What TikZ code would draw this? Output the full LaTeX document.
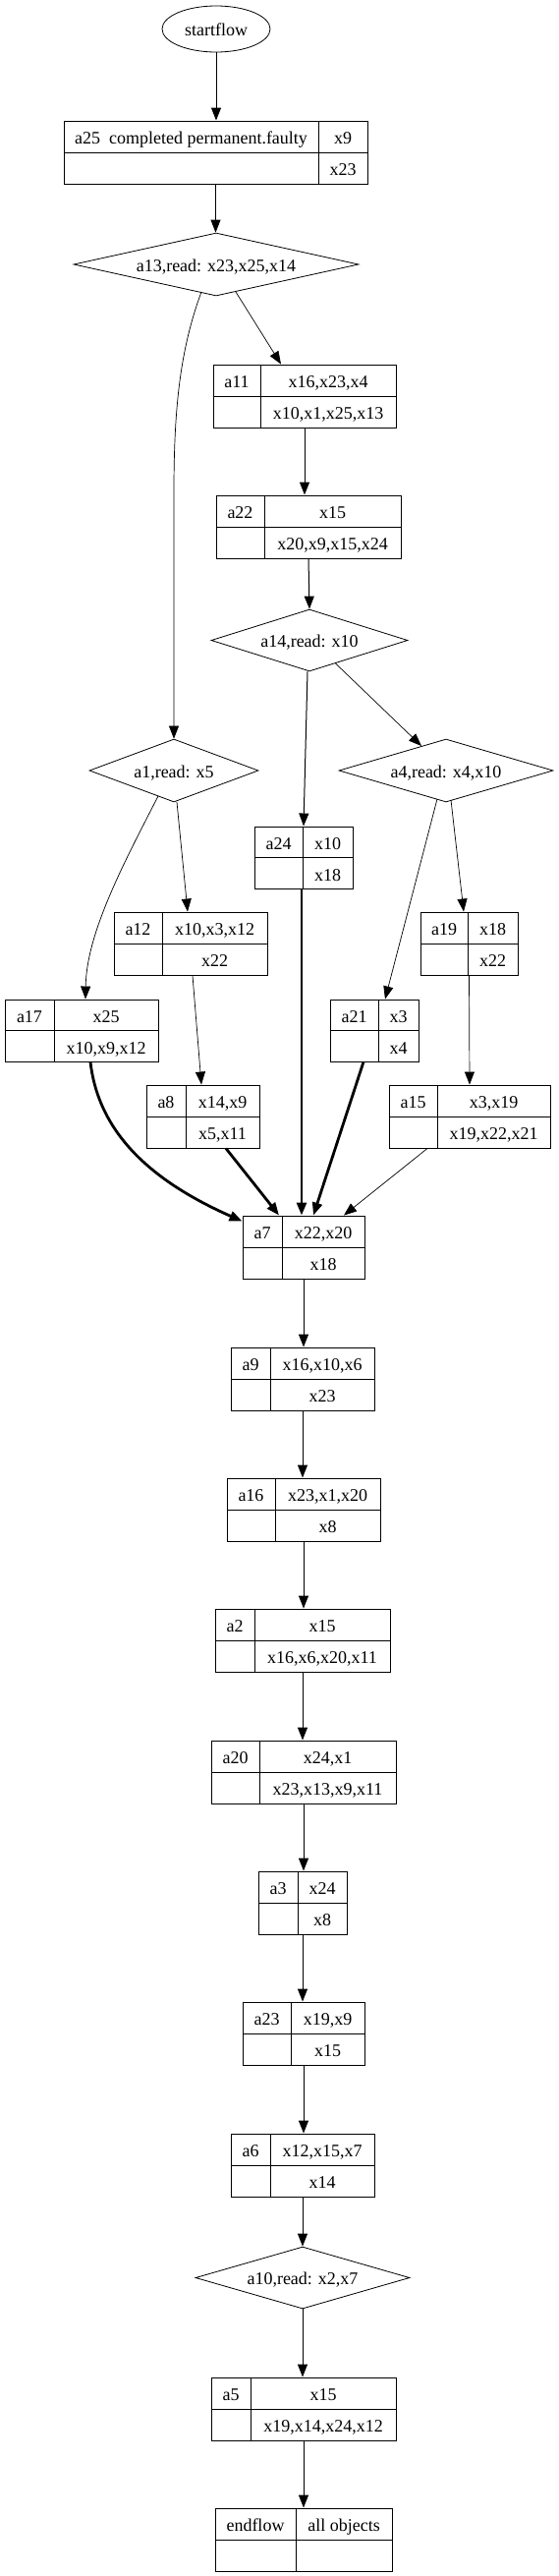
\documentclass[tikz,border=0pt]{standalone}
\usepackage{fontspec}
\setmainfont{Liberation Serif}
\usetikzlibrary{shapes.geometric,arrows.meta,calc}

\tikzset{
  every node/.style={font=\fontsize{18}{20}\selectfont},
  recbox/.style={draw, line width=0.95pt, rectangle, inner sep=0pt},
  recline/.style={line width=0.95pt},
  celltext/.style={anchor=base, inner sep=0pt},
  decision/.style={draw, diamond, aspect=4, inner sep=0pt, line width=0.8pt, text height=14pt, text depth=0pt},
  terminal/.style={draw, ellipse, inner sep=0pt, line width=0.8pt, text height=13pt, text depth=0pt},
  flow/.style={line width=1pt, -{Triangle[length=13pt,width=10pt]}},
  thinflow/.style={line width=0.7pt, -{Triangle[length=13pt,width=10pt]}},
  heavyflow/.style={line width=2.8pt, -{Triangle[length=13pt,width=10pt]}},
}

\newcommand{\rec}[9]{%
  \node[recbox, minimum width={(#4)-(#2)}, minimum height={(#6)-(#5)}] (#1) at ({((#2)+(#4))/2},{((#5)+(#6))/2}) {};
  \draw[recline] ({#3},{#5}) -- ({#3},{#6});
  \draw[recline] ({#2},{((#5)+(#6))/2}) -- ({#4},{((#5)+(#6))/2});
  \node[celltext] (#1-l) at ({((#2)+(#3))/2},{(#5)+23.5}) {#7};
  \node[celltext] (#1-t) at ({((#3)+(#4))/2},{(#5)+23.5}) {#8};
  \node[celltext] (#1-b) at ({((#3)+(#4))/2},{((#5)+(#6))/2+23.5}) {#9};
}

\begin{document}
\begin{tikzpicture}[x=1pt,y=-1pt]
\useasboundingbox (0,0) rectangle (569,2621);

% start
\node[terminal, minimum width=110, minimum height=47] (start) at (220,29.5) {startflow};

% records
\rec{a25}{65}{324}{374}{123}{187}{a25\ \ completed permanent.faulty}{x9}{x23}
\rec{a11}{217}{265}{403}{371}{435}{a11}{x16,x23,x4}{x10,x1,x25,x13}
\rec{a22}{220}{269}{408}{504}{568}{a22}{x15}{x20,x9,x15,x24}
\rec{a24}{259}{308}{359}{841}{904}{a24}{x10}{x18}
\rec{a12}{116}{165}{272}{928}{992}{a12}{x10,x3,x12}{x22}
\rec{a19}{428}{476}{527}{928}{992}{a19}{x18}{x22}
\rec{a17}{5}{55}{161}{1017}{1080}{a17}{x25}{x10,x9,x12}
\rec{a21}{336}{385}{426}{1017}{1080}{a21}{x3}{x4}
\rec{a8}{149}{189}{264}{1104}{1168}{a8}{x14,x9}{x5,x11}
\rec{a15}{396}{445}{560}{1104}{1168}{a15}{x3,x19}{x19,x22,x21}
\rec{a7}{247}{287}{371}{1237}{1301}{a7}{x22,x20}{x18}
\rec{a9}{235}{275}{381}{1371}{1435}{a9}{x16,x10,x6}{x23}
\rec{a16}{231}{280}{387}{1504}{1568}{a16}{x23,x1,x20}{x8}
\rec{a2}{219}{259}{397}{1637}{1701}{a2}{x15}{x16,x6,x20,x11}
\rec{a20}{215}{264}{403}{1771}{1835}{a20}{x24,x1}{x23,x13,x9,x11}
\rec{a3}{263}{303}{353}{1904}{1968}{a3}{x24}{x8}
\rec{a23}{247}{296}{371}{2037}{2101}{a23}{x19,x9}{x15}
\rec{a6}{235}{275}{381}{2171}{2235}{a6}{x12,x15,x7}{x14}
\rec{a5}{215}{255}{403}{2419}{2483}{a5}{x15}{x19,x14,x24,x12}
\rec{endflow}{219}{301}{399}{2552}{2616}{endflow}{all objects}{}

% decisions
\node[decision, minimum width=290, minimum height=64] (a13) at (220,269) {a13,read: x23,x25,x14};
\node[decision, minimum width=200, minimum height=63] (a14) at (315,651.5) {a14,read: x10};
\node[decision, minimum width=172, minimum height=64] (a1) at (177,784) {a1,read: x5};
\node[decision, minimum width=218, minimum height=64] (a4) at (454,784) {a4,read: x4,x10};
\node[decision, minimum width=218, minimum height=63] (a10) at (308,2317.5) {a10,read: x2,x7};

% connectors
\draw[flow] (start.south) -- (start.south |- a25.north);
\draw[flow] (a25.south) -- (a25.south |- a13.north);
\draw[thinflow] ($(a13.center)+(-15,28)$) .. controls ($(a13.center)+(-38,90)$) and ($(a1.north)+(0,-330)$) .. ($(a1.north)+(0,-250)$) -- (a1.north);
\draw[thinflow] ($(a13.center)+(20,28)$) -- ($(a11.north)+(-24,0)$);
\draw[flow] (a11.south) -- (a11.south |- a22.north);
\draw[flow] (a22.south) -- (a14.north);
\draw[flow] ($(a14.south)+(-2,0)$) -- (a24.north);
\draw[thinflow] ($(a14.center)+(26,23)$) -- ($(a4.center)+(-25,-25)$);
\draw[thinflow] ($(a1.center)+(3,32)$) -- ($(a12.north)+(-3,0)$);
\draw[thinflow] ($(a1.center)+(-16,26)$) .. controls (125,880) and (88,950) .. ($(a17.north)+(4,0)$);
\draw[thinflow] ($(a12.south)+(2,0)$) -- ($(a8.north)+(-1.5,0)$);
\draw[thinflow] ($(a4.center)+(-9,29)$) -- ($(a21.north)+(11,0)$);
\draw[thinflow] ($(a4.center)+(5,30)$) -- ($(a19.north)+(-5.5,0)$);
\draw[thinflow] (a19.south) -- (a15.north);
\draw[heavyflow] ($(a17.south)+(9,0)$) .. controls (100,1150) and (150,1200) .. ($(a7.north west)+(0,6)$);
\draw[heavyflow] ($(a8.south)+(23.5,0)$) -- ($(a7.north)+(-25,0)$);
\draw[heavyflow] ($(a24.south)+(-2,0)$) -- ($(a7.north)+(-2,0)$);
\draw[heavyflow] ($(a21.south)+(-11,0)$) -- ($(a7.north)+(10,0)$);
\draw[thinflow] ($(a15.south)+(-43,0)$) -- ($(a7.north)+(41,0)$);
\draw[flow] (a7.south) -- (a7.south |- a9.north);
\draw[flow] (a9.south) -- (a9.south |- a16.north);
\draw[flow] (a16.south) -- (a16.south |- a2.north);
\draw[flow] (a2.south) -- (a2.south |- a20.north);
\draw[flow] (a20.south) -- (a20.south |- a3.north);
\draw[flow] (a3.south) -- (a3.south |- a23.north);
\draw[flow] (a23.south) -- (a23.south |- a6.north);
\draw[flow] (a6.south) -- (a6.south |- a10.north);
\draw[flow] (a10.south) -- (a10.south |- a5.north);
\draw[flow] (a5.south) -- (a5.south |- endflow.north);
\end{tikzpicture}
\end{document}
